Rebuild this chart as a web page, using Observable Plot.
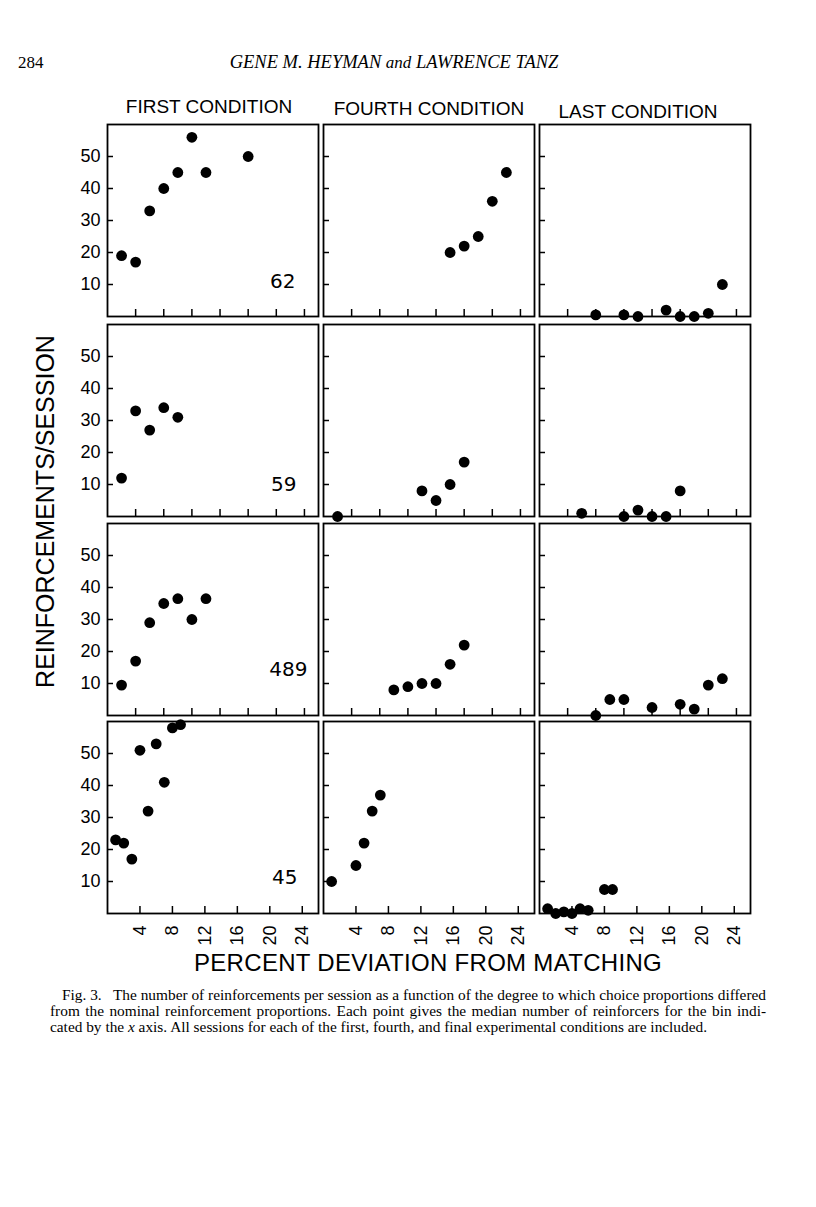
<!DOCTYPE html>
<html>
<head>
<meta charset="utf-8">
<script src="https://cdn.jsdelivr.net/npm/d3@7"></script>
<script src="https://cdn.jsdelivr.net/npm/@observablehq/plot@0.6"></script>
<style>
  html, body { margin: 0; padding: 0; background: #fff; }
  #page { position: relative; width: 816px; height: 1207px; overflow: hidden; background: #fff; color: #000;
          font-family: "Liberation Sans", Arial, sans-serif; }
  .abs { position: absolute; white-space: nowrap; }
  .serif { font-family: "Liberation Serif", "Times New Roman", serif; }
  .panel svg { overflow: visible; max-width: none; }
  .cap { position: absolute; left: 50px; width: 716px; font-family: "Liberation Serif", "Times New Roman", serif;
         font-size: 15.35px; line-height: 16px; text-align: justify; text-align-last: justify; white-space: nowrap; }
</style>
</head>
<body>
<div id="page"></div>
<script>
// ---------- data ----------
const conditions = ["FIRST CONDITION", "FOURTH CONDITION", "LAST CONDITION"];
const subjects = ["62", "59", "489", "45"];
const yTicks = [10, 20, 30, 40, 50];
const xTicksUpper = [4, 8, 12, 16, 20, 24, 28];
const xTicksBottom = [4, 8, 12, 16, 20, 24];

// subject 62
const dev62First  = [2, 4, 6, 8, 10, 12, 14, 20];
const rf62First   = [19, 17, 33, 40, 45, 56, 45, 50];
const dev62Fourth = [18, 20, 22, 24, 26];
const rf62Fourth  = [20, 22, 25, 36, 45];
const dev62Last   = [8, 12, 14, 18, 20, 22, 24, 26];
const rf62Last    = [0.5, 0.5, 0, 2, 0, 0, 1, 10];
// subject 59
const dev59First  = [2, 4, 6, 8, 10];
const rf59First   = [12, 33, 27, 34, 31];
const dev59Fourth = [2, 14, 16, 18, 20];
const rf59Fourth  = [0, 8, 5, 10, 17];
const dev59Last   = [6, 12, 14, 16, 18, 20];
const rf59Last    = [1, 0, 2, 0, 0, 8];
// subject 489
const dev489First  = [2, 4, 6, 8, 10, 12, 14];
const rf489First   = [9.5, 17, 29, 35, 36.5, 30, 36.5];
const dev489Fourth = [10, 12, 14, 16, 18, 20];
const rf489Fourth  = [8, 9, 10, 10, 16, 22];
const dev489Last   = [8, 10, 12, 16, 20, 22, 24, 26];
const rf489Last    = [0, 5, 5, 2.5, 3.5, 2, 9.5, 11.5];
// subject 45
const dev45First  = [1, 2, 3, 4, 5, 6, 7, 8, 9];
const rf45First   = [23, 22, 17, 51, 32, 53, 41, 58, 59];
const dev45Fourth = [1, 4, 5, 6, 7];
const rf45Fourth  = [10, 15, 22, 32, 37];
const dev45Last   = [1, 2, 3, 4, 5, 6, 8, 9];
const rf45Last    = [1.5, 0, 0.5, 0, 1.5, 1, 7.5, 7.5];

const panelData = [
  [[dev62First, rf62First], [dev62Fourth, rf62Fourth], [dev62Last, rf62Last]],
  [[dev59First, rf59First], [dev59Fourth, rf59Fourth], [dev59Last, rf59Last]],
  [[dev489First, rf489First], [dev489Fourth, rf489Fourth], [dev489Last, rf489Last]],
  [[dev45First, rf45First], [dev45Fourth, rf45Fourth], [dev45Last, rf45Last]]
];

// ---------- layout ----------
const colLeft = [107, 323, 539];
const rowTop = [124, 323.5, 523, 721];
const panelW = 211, panelH = 192;
const labelOffset = [[-23, -35], [-22, -31.5], [-11, -46], [-21, -35.5]];

const page = document.getElementById("page");

function addDiv(html, css, cls = "abs") {
  const d = document.createElement("div");
  d.className = cls;
  d.innerHTML = html;
  Object.assign(d.style, css);
  page.appendChild(d);
  return d;
}

// header
addDiv("284", {left: "18px", top: "54px", fontSize: "17px", lineHeight: "17px"}, "abs serif");
addDiv("GENE M. HEYMAN <span style='font-size:17px'>and</span> LAWRENCE TANZ",
  {left: "0px", width: "788px", textAlign: "center", top: "53px", fontSize: "18.5px", lineHeight: "18px", fontStyle: "italic"}, "abs serif");

// column titles
const titleCenters = [209, 429, 638];
const titleBaselines = [113, 115, 118];
conditions.forEach((t, i) => {
  addDiv(t, {left: (titleCenters[i] - 150) + "px", width: "300px", textAlign: "center",
    top: (titleBaselines[i] - 16) + "px", fontSize: "19px", lineHeight: "19px"});
});

// panels
for (let r = 0; r < 4; r++) {
  for (let c = 0; c < 3; c++) {
    const mL = c === 0 ? 40 : 6, mR = 6, mT = 6, mB = r === 3 ? 44 : 6;
    const bottom = r === 3;
    const [xs, ys] = panelData[r][c];
    const pts = xs.map((x, i) => ({x, y: ys[i]}));
    const marks = [
      Plot.frame({stroke: "black", strokeWidth: 1.8}),
      Plot.axisY(yTicks, {tickSize: -6, tickFormat: () => "", strokeWidth: 1.5, label: null}),
      Plot.axisX(bottom ? xTicksBottom : xTicksUpper, {tickSize: -7, tickFormat: () => "", strokeWidth: 1.5, label: null})
    ];
    if (c === 0) {
      marks.push(Plot.axisY(yTicks, {tickSize: 0, tickPadding: 7, fontSize: 18, label: null}));
      marks.push(Plot.text([subjects[r]], {text: d => d, frameAnchor: "bottom-right", textAnchor: "end",
        lineAnchor: "middle", dx: labelOffset[r][0], dy: labelOffset[r][1], fontSize: 20,
        fontFamily: "DejaVu Sans, sans-serif", fill: "black"}));
    }
    if (bottom) {
      marks.push(Plot.axisX(xTicksBottom, {tickSize: 0, tickPadding: 12, tickRotate: -90, fontSize: 18, label: null}));
    }
    marks.push(Plot.dot(pts, {x: "x", y: "y", r: 5.4, fill: "black", stroke: null}));
    const svg = Plot.plot({
      width: panelW + mL + mR,
      height: panelH + mT + mB,
      marginLeft: mL, marginRight: mR, marginTop: mT, marginBottom: mB,
      x: {domain: bottom ? [0, 26] : [0, 30], label: null},
      y: {domain: [0, 60], label: null},
      style: {background: "transparent", overflow: "visible", color: "black",
              fontFamily: "Liberation Sans, Arial, sans-serif"},
      marks
    });
    const holder = document.createElement("div");
    holder.className = "abs panel";
    holder.style.left = (colLeft[c] - mL) + "px";
    holder.style.top = (rowTop[r] - mT) + "px";
    holder.appendChild(svg);
    page.appendChild(holder);
  }
}

// axis titles
addDiv("PERCENT DEVIATION FROM MATCHING", {left: "128px", width: "600px", textAlign: "center",
  top: "951px", fontSize: "24px", lineHeight: "24px", letterSpacing: "0.3px"});
addDiv("REINFORCEMENTS/SESSION", {left: (45 - 220) + "px", width: "440px", textAlign: "center",
  top: (511 - 12.5) + "px", fontSize: "25px", lineHeight: "25px", transform: "rotate(-90deg)"});

// caption
addDiv("Fig. 3.&ensp; The number of reinforcements per session as a function of the degree to which choice proportions differed",
  {left: "62px", width: "704px", top: "987px"}, "cap");
addDiv("from the nominal reinforcement proportions. Each point gives the median number of reinforcers for the bin indi-",
  {top: "1003px"}, "cap");
addDiv("cated by the <i>x</i> axis. All sessions for each of the first, fourth, and final experimental conditions are included.",
  {top: "1019px", textAlignLast: "left", width: "auto"}, "cap");
</script>
</body>
</html>
